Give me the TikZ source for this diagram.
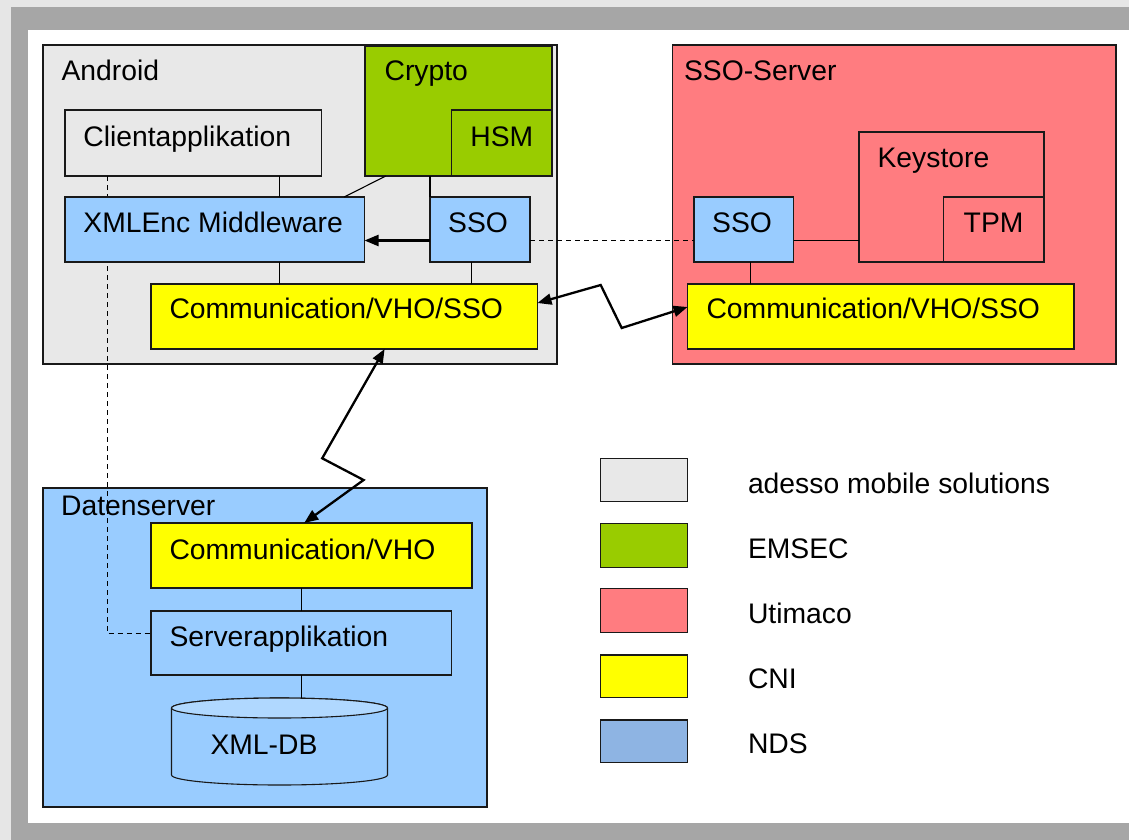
\documentclass[tikz,border=0pt]{standalone}
\usepackage{fontspec}
\setmainfont{Liberation Sans}
\usetikzlibrary{arrows.meta,calc}
\definecolor{lgframe}{HTML}{E6E6E6}
\definecolor{dgframe}{HTML}{A6A6A6}
\definecolor{amsgray}{HTML}{E8E8E8}
\definecolor{emgreen}{HTML}{99CC00}
\definecolor{utred}{HTML}{FF7C80}
\definecolor{cniyellow}{HTML}{FFFF00}
\definecolor{ndsblue}{HTML}{99CCFF}
\definecolor{legblue}{HTML}{8EB4E3}
\definecolor{dbtop}{HTML}{B0D8FF}
\newcommand\mybox[6]{\node[box,#6,minimum width={(#4-#2)*1pt},minimum height={(#5-#3)*1pt}] (#1) at (#2,#3) {};}
\begin{document}
\begin{tikzpicture}[x=1pt,y=-1pt,
  box/.style={draw=black!90,line width=1.1pt,inner sep=0pt,outer sep=0pt,anchor=north west},
  lbl/.style={inner sep=0pt,outer sep=0pt,font=\fontsize{28.3pt}{34pt}\selectfont},
  conn/.style={draw=black,line width=1.1pt},
  dashconn/.style={draw=black,line width=1pt,dashed,dash pattern=on 5pt off 4pt},
  arr/.style={draw=black,line width=2.3pt,-{Triangle[length=14pt,width=11pt]}},
  darr/.style={draw=black,line width=2.3pt,{Triangle[length=14pt,width=11pt]}-{Triangle[length=14pt,width=11pt]}}]
\useasboundingbox (0,0) rectangle (1129,840);
% frame
\fill[lgframe] (0,0) rectangle (1129,840);
\fill[dgframe] (11,7) rectangle (1129,840);
\fill[white] (28,30) rectangle (1129,823);
% containers
\mybox{android}{43}{45}{557}{364}{fill=amsgray}
\mybox{ssoserver}{672.5}{45}{1116}{364}{fill=utred}
\mybox{daten}{43}{488}{487}{807}{fill=ndsblue}
% helper coordinates
\coordinate (xa) at (279.4,0);
\coordinate (xb) at (471.5,0);
\coordinate (xc) at (750.8,0);
\coordinate (xd) at (301.2,0);
\coordinate (xe) at (107,0);
\coordinate (ya) at (0,240.5);
\coordinate (yb) at (0,633.3);
% inner boxes
\mybox{crypto}{365}{46}{552}{176}{fill=emgreen}
\mybox{hsm}{451.5}{110}{552}{176}{fill=emgreen}
\mybox{client}{65}{110}{321.5}{176}{fill=amsgray}
\mybox{keystore}{859}{132}{1044}{262}{fill=utred}
\mybox{tpm}{943.5}{197}{1044}{262}{fill=utred}
\mybox{serverapp}{151}{611}{451.5}{675}{fill=ndsblue}
% dashed connectors
\path[dashconn] (client.south -| xe) -- (xe |- yb) -- (serverapp.west |- yb);
\mybox{xmlenc}{65}{197}{364.5}{262}{fill=ndsblue}
\mybox{ssoL}{430}{197}{530}{262}{fill=ndsblue}
\mybox{ssoR}{694}{197}{793.5}{262}{fill=ndsblue}
\path[dashconn] (ssoL.east |- ya) -- (ssoR.west |- ya);
\mybox{commL}{151}{284}{537.5}{349}{fill=cniyellow}
\mybox{commR}{687.5}{284}{1074}{349}{fill=cniyellow}
\mybox{commV}{151}{523}{472}{588}{fill=cniyellow}
% database cylinder
\node[inner sep=0pt,outer sep=0pt,minimum width=216pt,minimum height=87pt] (db) at (279.5,741.5) {};
\path[draw=black!90,line width=1.1pt,fill=ndsblue] (171.5,708) -- (171.5,775)
  arc[start angle=180,end angle=360,x radius=108pt,y radius=10pt] -- (387.5,708)
  arc[start angle=0,end angle=180,x radius=108pt,y radius=10pt] -- cycle;
\path[draw=black!90,line width=1.1pt,fill=dbtop] (279.5,708) ellipse[x radius=108pt,y radius=10pt];
% legend
\mybox{lg1}{600.5}{458.5}{687.5}{501.5}{fill=amsgray}
\mybox{lg2}{600.5}{523.5}{687.5}{567.5}{fill=emgreen}
\mybox{lg3}{600.5}{588.5}{687.5}{632.5}{fill=utred}
\mybox{lg4}{600.5}{655}{687.5}{697.5}{fill=cniyellow}
\mybox{lg5}{600.5}{720}{687.5}{762.5}{fill=legblue}
% labels
\node[lbl,anchor=base west] (tAndroid) at (61.5,81) {Android};
\node[lbl,anchor=base west] (tCrypto) at (384.6,81) {Crypto};
\node[lbl,anchor=base] (tHSM) at (501.8,146.7) {HSM};
\node[lbl,anchor=base west] (tClient) at (83.4,146.7) {Clientapplikation};
\node[lbl,anchor=base west] (tXML) at (83.4,232.3) {XMLEnc Middleware};
\node[lbl,anchor=base] (tSSOL) at (478,232.3) {SSO};
\node[lbl,anchor=base west] (tCommL) at (169.5,318.3) {Communication/VHO/SSO};
\node[lbl,anchor=base west] (tSSOServer) at (684,81) {SSO-Server};
\node[lbl,anchor=base west] (tKeystore) at (877.6,167.7) {Keystore};
\node[lbl,anchor=base] (tTPM) at (993.6,232.3) {TPM};
\node[lbl,anchor=base] (tSSOR) at (742,232.3) {SSO};
\node[lbl,anchor=base west] (tCommR) at (706.5,318.3) {Communication/VHO/SSO};
\node[lbl,anchor=base west] (tDaten) at (61.2,515) {Datenserver};
\node[lbl,anchor=base west] (tCommV) at (169.5,559) {Communication/VHO};
\node[lbl,anchor=base west] (tServer) at (169.5,646) {Serverapplikation};
\node[lbl,anchor=base] (tDB) at (264,754) {XML-DB};
\node[lbl,anchor=base west] (tl1) at (748,493.3) {adesso mobile solutions};
\node[lbl,anchor=base west] (tl2) at (748,558.3) {EMSEC};
\node[lbl,anchor=base west] (tl3) at (748,623.3) {Utimaco};
\node[lbl,anchor=base west] (tl4) at (748,688.3) {CNI};
\node[lbl,anchor=base west] (tl5) at (748,753.3) {NDS};
% solid connectors
\path[conn] (client.south -| xa) -- (xmlenc.north -| xa);
\path[conn] (xmlenc.south -| xa) -- (commL.north -| xa);
\path[conn] ($(crypto.south west)+(20.8,0)$) -- ($(xmlenc.north east)+(-20.3,0)$);
\path[conn] (ssoL.north west) -- (ssoL.north west |- crypto.south);
\path[conn] (ssoL.south -| xb) -- (commL.north -| xb);
\path[conn] (ssoR.east |- ya) -- (keystore.west |- ya);
\path[conn] (ssoR.south -| xc) -- (commR.north -| xc);
\path[conn] (commV.south -| xd) -- (serverapp.north -| xd);
\path[conn] (serverapp.south -| xd) -- (db.north -| xd);
% arrows
\path[arr] (ssoL.west |- ya) -- (xmlenc.east |- ya);
\path[darr] (commL.east |- 0,303) -- (600.7,285) -- (621.7,328) -- (commR.west |- 0,307);
\path[darr] (commL.south -| 384.6,0) -- (322.2,458.3) -- (363.6,480) -- (commV.north -| 304.2,0);
\end{tikzpicture}
\end{document}
